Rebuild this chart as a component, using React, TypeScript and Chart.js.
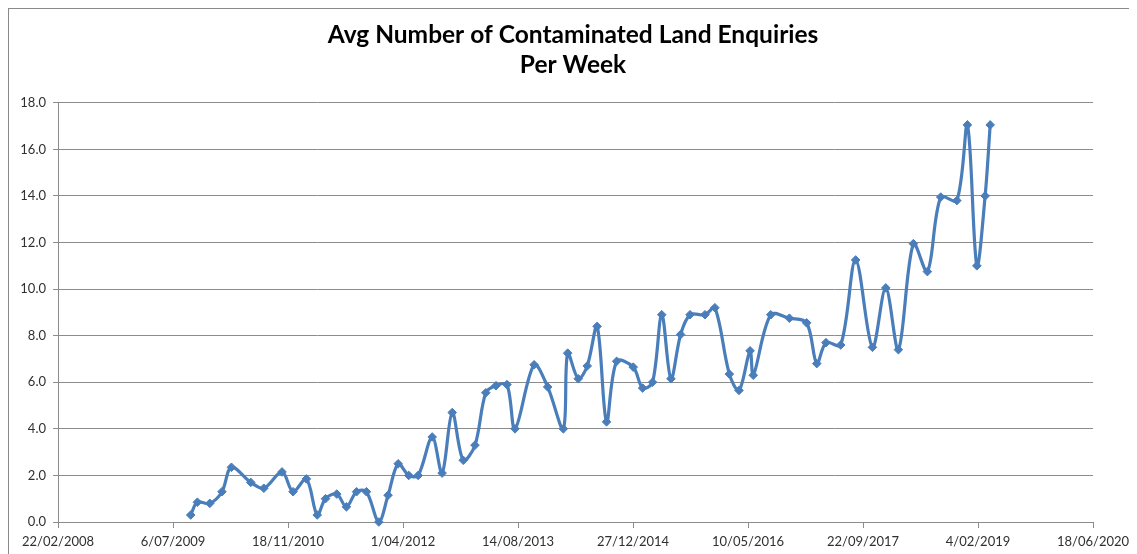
import React, { useEffect, useRef } from "react";
import { Chart, registerables } from "chart.js";

Chart.register(...registerables);

const titleLines = ["Avg Number of Contaminated Land Enquiries", "Per Week"];

// Observation dates (ISO) and average enquiries per week
const obsDates = [
  "2009-09-21", "2009-10-20", "2009-12-13", "2010-02-04", "2010-03-17",
  "2010-06-09", "2010-08-05", "2010-10-23", "2010-12-10", "2011-02-06",
  "2011-03-25", "2011-04-30", "2011-06-18", "2011-07-30", "2011-09-12",
  "2011-10-25", "2011-12-18", "2012-01-27", "2012-03-11", "2012-04-26",
  "2012-06-06", "2012-08-06", "2012-09-18", "2012-11-01", "2012-12-19",
  "2013-02-08", "2013-03-27", "2013-05-10", "2013-06-27", "2013-08-01",
  "2013-10-23", "2013-12-21", "2014-02-27", "2014-03-18", "2014-05-03",
  "2014-06-11", "2014-07-24", "2014-09-03", "2014-10-17", "2014-12-28",
  "2015-02-07", "2015-03-22", "2015-05-01", "2015-06-10", "2015-07-22",
  "2015-09-01", "2015-11-05", "2015-12-18", "2016-02-19", "2016-04-01",
  "2016-05-19", "2016-06-02", "2016-08-17", "2016-11-06", "2017-01-20",
  "2017-03-05", "2017-04-14", "2017-06-17", "2017-08-21", "2017-11-02",
  "2017-12-30", "2018-02-23", "2018-04-29", "2018-06-29", "2018-08-26",
  "2018-11-04", "2018-12-20", "2019-01-30", "2019-03-07", "2019-03-29",
];

const avgEnquiries = [
  0.3, 0.85, 0.8, 1.3, 2.35,
  1.7, 1.45, 2.15, 1.3, 1.85,
  0.3, 1.0, 1.2, 0.65, 1.3,
  1.3, 0.0, 1.15, 2.5, 2.0,
  2.0, 3.65, 2.1, 4.7, 2.65,
  3.3, 5.55, 5.85, 5.9, 4.0,
  6.75, 5.8, 4.0, 7.25, 6.15,
  6.7, 8.4, 4.3, 6.9, 6.65,
  5.75, 6.0, 8.9, 6.15, 8.05,
  8.9, 8.9, 9.2, 6.35, 5.65,
  7.35, 6.3, 8.9, 8.75, 8.55,
  6.8, 7.7, 7.6, 11.25, 7.5,
  10.05, 7.4, 11.95, 10.75, 13.95,
  13.8, 17.05, 11.0, 14.0, 17.05,
];

// X axis (Excel date serials): 22/02/2008 .. 18/06/2020 every 500 days
const xAxisStartDate = "2008-02-22";
const xAxisEndDate = "2020-06-18";
const xTickStepDays = 500;

// Y axis
const yMin = 0;
const yMax = 18;
const yStep = 2;

const EXCEL_EPOCH = Date.UTC(1899, 11, 30);
const DAY = 86400000;

function toSerial(iso: string): number {
  const [y, m, d] = iso.split("-").map(Number);
  return Math.round((Date.UTC(y, m - 1, d) - EXCEL_EPOCH) / DAY);
}

function serialToLabel(serial: number): string {
  const dt = new Date(EXCEL_EPOCH + serial * DAY);
  const d = dt.getUTCDate();
  const m = String(dt.getUTCMonth() + 1).padStart(2, "0");
  return `${d}/${m}/${dt.getUTCFullYear()}`;
}

export default function App() {
  const canvasRef = useRef<HTMLCanvasElement | null>(null);

  useEffect(() => {
    if (!canvasRef.current) return;
    const points = obsDates.map((d, i) => ({ x: toSerial(d), y: avgEnquiries[i] }));
    const lineColor = "#4a7ebb";
    const gridColor = "#8c8c8c";
    const tickFont = { family: "Lato, 'Open Sans', sans-serif", size: 13 };

    const chart = new Chart(canvasRef.current, {
      type: "line",
      data: {
        datasets: [
          {
            label: "Avg Number of Contaminated Land Enquiries Per Week",
            data: points,
            borderColor: lineColor,
            backgroundColor: lineColor,
            borderWidth: 3.2,
            tension: 0.33,
            pointStyle: "rectRot",
            pointRadius: 4.3,
            pointBorderWidth: 1,
            pointBackgroundColor: lineColor,
            pointBorderColor: lineColor,
            clip: false as any,
          },
        ],
      },
      options: {
        animation: false,
        responsive: false,
        maintainAspectRatio: false,
        layout: { padding: 0 },
        plugins: {
          legend: { display: false },
          tooltip: { enabled: false },
          title: {
            display: true,
            text: titleLines,
            color: "#000000",
            font: { family: "Lato, 'Open Sans', sans-serif", size: 24.5, weight: "bold", lineHeight: 1.24 },
            padding: { top: 11, bottom: 22 },
          },
        },
        scales: {
          x: {
            type: "linear",
            min: toSerial(xAxisStartDate),
            max: toSerial(xAxisEndDate),
            afterBuildTicks: (axis: any) => {
              const ticks = [];
              for (let v = axis.min; v <= axis.max; v += xTickStepDays) ticks.push({ value: v });
              axis.ticks = ticks;
            },
            afterFit: (axis: any) => {
              axis.height = 32;
            },
            ticks: {
              callback: (v: any) => serialToLabel(Number(v)),
              color: "#303030",
              font: tickFont,
              maxRotation: 0,
              autoSkip: false,
              padding: 6,
            },
            grid: {
              drawOnChartArea: false,
              drawTicks: true,
              tickLength: 6,
              color: gridColor,
            },
            border: { display: true, color: gridColor, width: 1 },
          },
          y: {
            type: "linear",
            min: yMin,
            max: yMax,
            afterFit: (axis: any) => {
              axis.width = 49;
            },
            ticks: {
              stepSize: yStep,
              callback: (v: any) => Number(v).toFixed(1),
              color: "#303030",
              font: tickFont,
              padding: 7,
            },
            grid: {
              color: gridColor,
              lineWidth: 1,
              drawTicks: true,
              tickLength: 5,
            },
            border: { display: true, color: gridColor, width: 1 },
          },
          yRightSpace: {
            type: "linear",
            position: "right",
            min: yMin,
            max: yMax,
            afterFit: (axis: any) => {
              axis.width = 44;
            },
            ticks: { display: false },
            grid: { drawOnChartArea: false, drawTicks: false },
            border: { display: false },
          },
        },
      },
    } as any);

    return () => chart.destroy();
  }, []);

  return (
    <div
      style={{
        position: "relative",
        width: 1129,
        height: 546,
        borderTop: "1px solid #8a8a8a",
        borderLeft: "1px solid #8a8a8a",
        boxSizing: "border-box",
        background: "#ffffff",
      }}
    >
      <canvas ref={canvasRef} width={1128} height={545} style={{ display: "block" }} />
    </div>
  );
}
